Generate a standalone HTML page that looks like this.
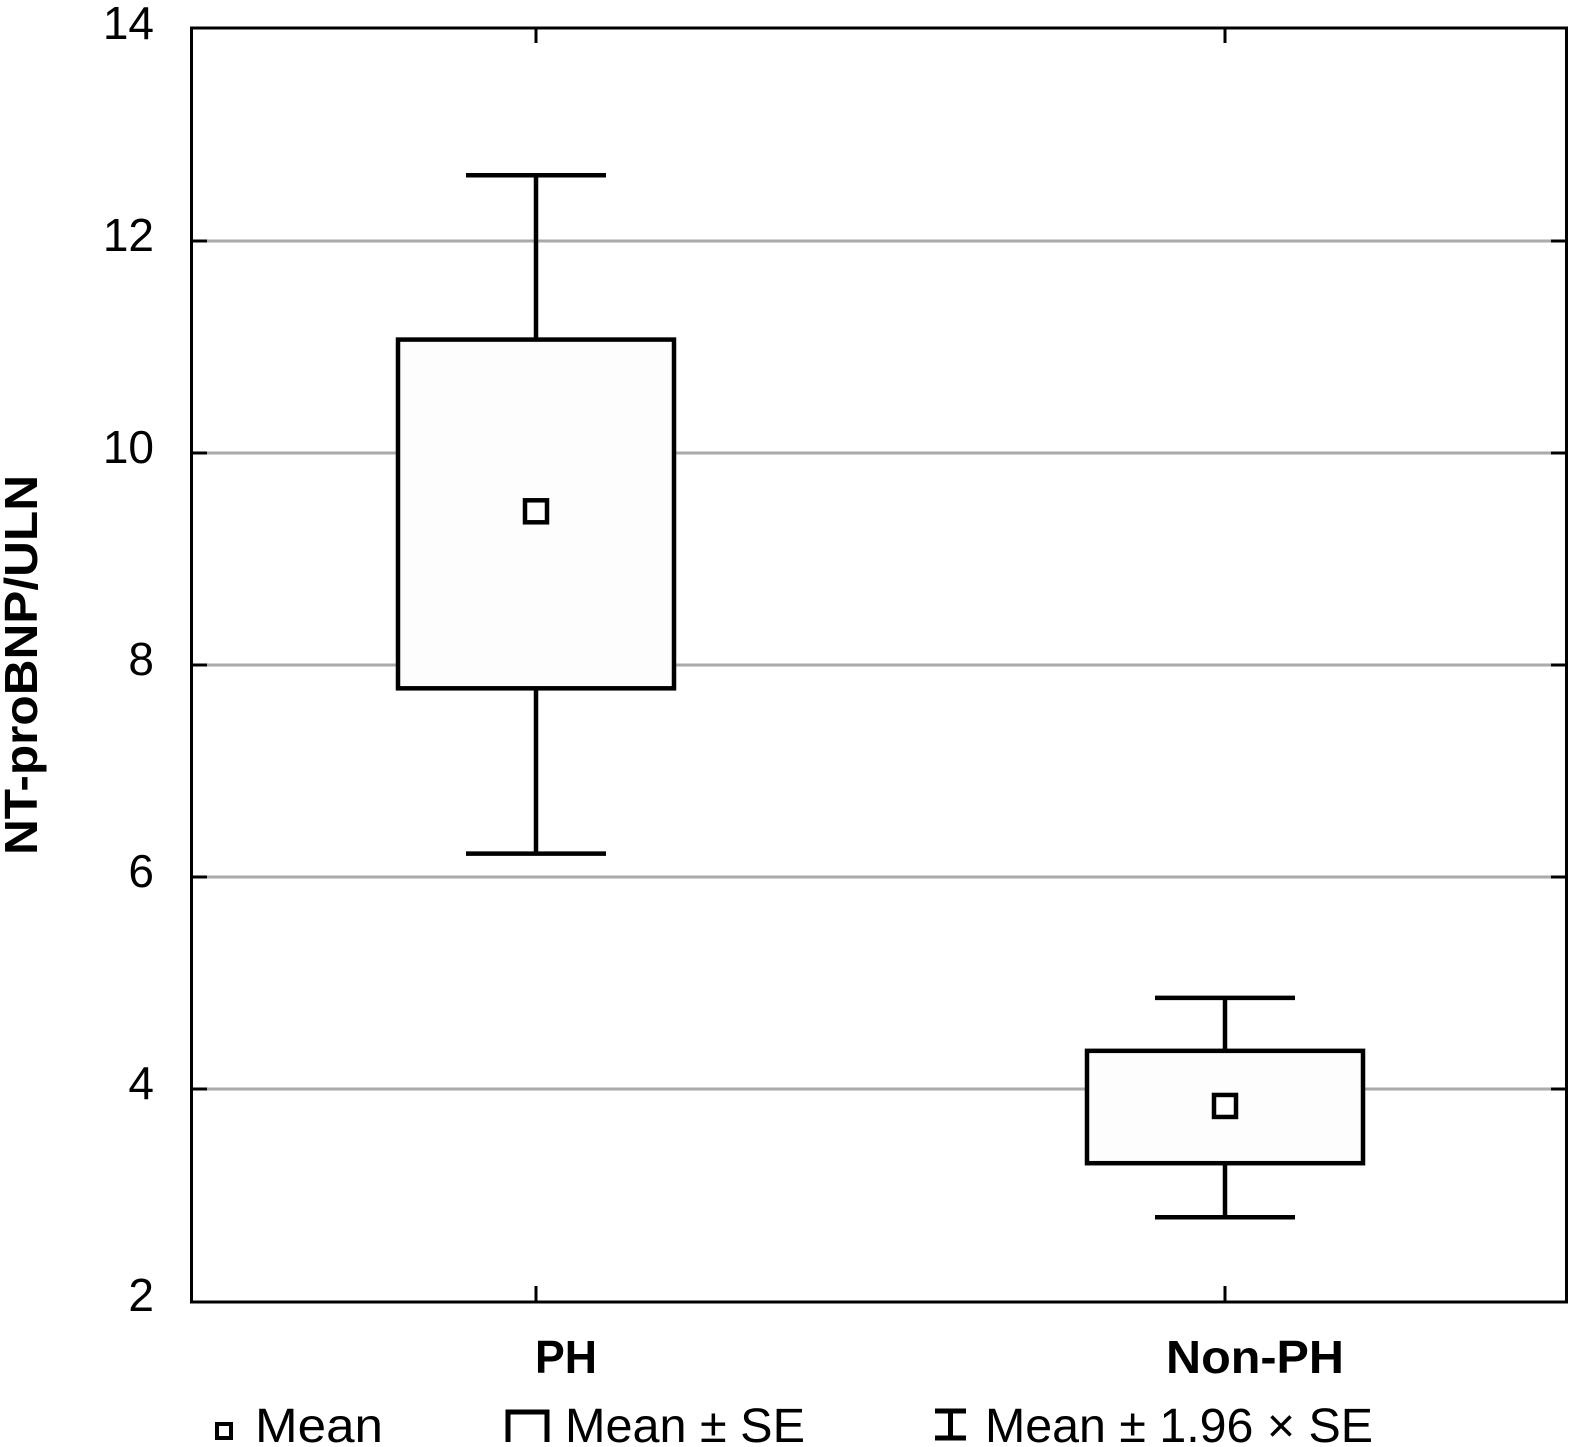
<!DOCTYPE html>
<html><head><meta charset="utf-8"><style>
html,body{margin:0;padding:0;background:#fff}
svg{display:block}
text{font-family:"Liberation Sans",sans-serif;fill:#000}
</style></head><body>
<svg id="chart" width="1572" height="1447" viewBox="0 0 1572 1447">
<g id="grid"></g>
<g id="marks"></g>
<rect x="191.5" y="28" width="1375" height="1274" fill="none" stroke="#000" stroke-width="3"/>
<g id="ticks"></g>
<text transform="translate(37,665) rotate(-90)" text-anchor="middle" font-size="46" font-weight="bold" textLength="380" lengthAdjust="spacingAndGlyphs">NT-proBNP/ULN</text>
<g>
<rect x="217" y="1424" width="14" height="14" fill="none" stroke="#000" stroke-width="4"/>
<text x="255" y="1442" font-size="48" textLength="128" lengthAdjust="spacingAndGlyphs">Mean</text>
<path d="M508,1442 V1412 H547 V1442" fill="none" stroke="#000" stroke-width="5"/>
<text x="565" y="1442" font-size="48" textLength="240" lengthAdjust="spacingAndGlyphs">Mean ± SE</text>
<path d="M935,1411 H966 M950.5,1411 V1438 M935,1438 H966" fill="none" stroke="#000" stroke-width="5"/>
<text x="985" y="1442" font-size="48" textLength="388" lengthAdjust="spacingAndGlyphs">Mean ± 1.96 × SE</text>
</g>
</svg>
<script>
const categories = ["PH", "Non-PH"];
const means = [9.45, 3.84];
const seLow = [7.78, 3.30];
const seHigh = [11.07, 4.36];
const ciLow = [6.22, 2.79];
const ciHigh = [12.62, 4.86];
const yTicks = [2, 4, 6, 8, 10, 12, 14];

const NS = "http://www.w3.org/2000/svg";
const y = v => 1301 - (v - 2) * 106;
const xc = i => [536, 1225][i];
const labelLen = [62, 178];
function mk(parent, tag, attrs) {
  const el = document.createElementNS(NS, tag);
  for (const k in attrs) el.setAttribute(k, attrs[k]);
  document.getElementById(parent).appendChild(el);
  return el;
}
yTicks.forEach(t => {
  if (t !== 2 && t !== 14) {
    const g = mk("grid", "line", {x1: 192, x2: 1566, y1: y(t), y2: y(t), stroke: "#aaa", "stroke-width": 3});
    
    
    const a = mk("ticks", "line", {x1: 192, x2: 207, y1: y(t), y2: y(t), stroke: "#000", "stroke-width": 3});
    
    
    const b = mk("ticks", "line", {x1: 1551, x2: 1566, y1: y(t), y2: y(t), stroke: "#000", "stroke-width": 3});
    
    
  }
  const lb = mk("ticks", "text", {x: 154, y: y(t) + 10, "text-anchor": "end", "font-size": 46});
  lb.textContent = t;
  
  
});
categories.forEach((c, i) => {
  const x = xc(i);
  const t1 = mk("ticks", "line", {x1: x, x2: x, y1: 29, y2: 43, stroke: "#000", "stroke-width": 3});
  
  
  const t2 = mk("ticks", "line", {x1: x, x2: x, y1: 1286, y2: 1301, stroke: "#000", "stroke-width": 3});
  
  
  const lb = mk("ticks", "text", {x: x + 30, y: 1373, "text-anchor": "middle", "font-size": 46, "font-weight": "bold", textLength: labelLen[i], lengthAdjust: "spacingAndGlyphs"});
  lb.textContent = c;
  
  
  const w = mk("marks", "path", {d: `M${x-70},${y(ciHigh[i])} H${x+70} M${x},${y(ciHigh[i])} V${y(ciLow[i])} M${x-70},${y(ciLow[i])} H${x+70}`, stroke: "#000", "stroke-width": 4.5, fill: "none"});
  
  
  const bx = mk("marks", "rect", {x: x - 138, y: y(seHigh[i]), width: 276, height: y(seLow[i]) - y(seHigh[i]), fill: "#fdfdfd", stroke: "#000", "stroke-width": 4.5});
  
  
  const m = mk("marks", "rect", {x: x - 11, y: y(means[i]) - 11, width: 22, height: 22, fill: "#fff", stroke: "#000", "stroke-width": 4.5});
  
  
});
</script>
</body></html>
